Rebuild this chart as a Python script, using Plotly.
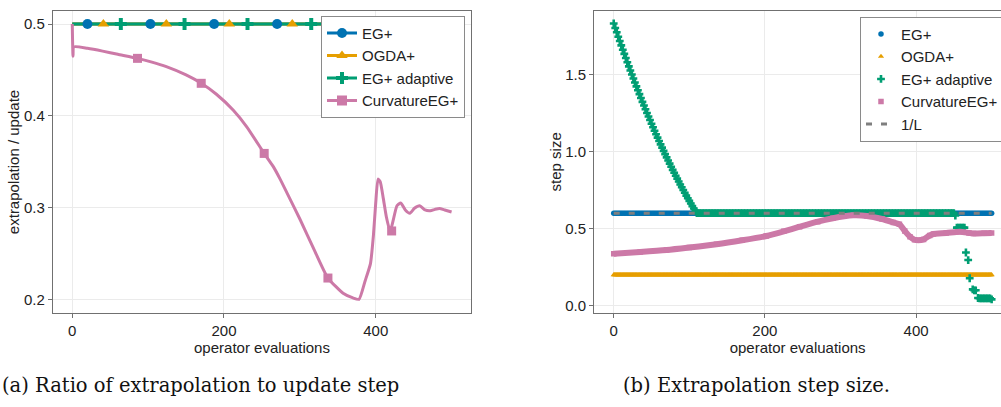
import plotly.graph_objects as go

# ---------------- data: left panel (ratio extrapolation / update) ----------------
left_x_span = [0, 500]
eg_ratio = 0.5
ogda_ratio = 0.5
adapt_ratio = 0.5
eg_mark_x = [20, 103, 187, 270, 353, 437]
ogda_mark_x = [41, 124, 207, 290, 373, 456]
adapt_mark_x = [64, 148, 231, 315, 398, 481]

curv_x = [0, 1, 2, 20, 40, 60, 86, 105, 124, 150, 170, 190, 212, 230, 253, 265, 274, 283, 300, 320,
          337, 357, 370, 378, 386, 393, 397, 400, 403, 406, 410, 414, 419, 423, 428, 433, 439, 445,
          451, 458, 465, 472, 478, 484, 491, 500]
curv_y = [0.500, 0.465, 0.475, 0.4735, 0.4705, 0.467, 0.4626, 0.4585, 0.4535, 0.4445, 0.4354, 0.4235,
          0.4063, 0.388, 0.359, 0.3446, 0.331, 0.316, 0.2875, 0.252, 0.2232, 0.2066, 0.2015, 0.200,
          0.220, 0.2386, 0.270, 0.305, 0.331, 0.328, 0.310, 0.290, 0.2738, 0.286, 0.302, 0.305,
          0.2974, 0.2938, 0.2992, 0.302, 0.2974, 0.2966, 0.298, 0.299, 0.2974, 0.2952]
curv_mark_x = [86, 170, 253, 337, 421]
curv_mark_y = [0.4626, 0.4354, 0.359, 0.2232, 0.2745]

# ---------------- data: right panel (extrapolation step size) ----------------
eg_step_x = list(range(0, 501, 2))
eg_step = 0.6
ogda_step_x = list(range(0, 501, 1))
ogda_step = 0.2
inv_L = 0.6

adapt_desc_x = list(range(0, 111, 2))
adapt_desc_y = [1.830, 1.801, 1.773, 1.744, 1.716, 1.688, 1.660, 1.633, 1.606, 1.579, 1.552, 1.525,
                1.499, 1.473, 1.447, 1.422, 1.397, 1.372, 1.347, 1.322, 1.298, 1.274, 1.250, 1.227,
                1.204, 1.180, 1.157, 1.134, 1.112, 1.090, 1.068, 1.046, 1.025, 1.004, 0.983, 0.962,
                0.942, 0.921, 0.901, 0.881, 0.862, 0.843, 0.824, 0.805, 0.786, 0.768, 0.750, 0.732,
                0.714, 0.697, 0.680, 0.663, 0.646, 0.630, 0.615, 0.600]
adapt_flat_x = list(range(112, 450, 2))
adapt_flat_value = 0.6
adapt_tail_x = [450, 452, 454, 456, 458, 460, 462, 464, 466, 469, 471, 475, 477, 479, 482, 484, 486,
                488, 490, 492, 494, 496, 498, 500]
adapt_tail_y = [0.600, 0.585, 0.506, 0.506, 0.506, 0.506, 0.506, 0.506, 0.345, 0.296, 0.178, 0.106,
                0.100, 0.100, 0.050, 0.048, 0.048, 0.048, 0.048, 0.048, 0.048, 0.048, 0.048, 0.041]

rc_x = [0, 35, 70, 100, 136, 170, 202, 225, 246, 270, 290, 305, 317, 335, 355, 370, 378, 385, 392,
        398, 403, 410, 418, 423, 440, 458, 470, 476, 490, 500]
rc_y = [0.337, 0.348, 0.361, 0.377, 0.398, 0.424, 0.452, 0.482, 0.512, 0.545, 0.567, 0.580, 0.586,
        0.582, 0.562, 0.540, 0.528, 0.485, 0.447, 0.428, 0.424, 0.430, 0.455, 0.465, 0.471, 0.480,
        0.472, 0.468, 0.470, 0.472]

names = ["EG+", "OGDA+", "EG+ adaptive", "CurvatureEG+"]
BLUE, ORANGE, GREEN, PINK, GRAY = "#0072B2", "#E69F00", "#009E73", "#CC79A7", "#7f7f7f"

FONT = "Liberation Sans"
fig = go.Figure()

# ---- left panel lines
for val, col in [(eg_ratio, BLUE), (ogda_ratio, ORANGE), (adapt_ratio, GREEN)]:
    fig.add_trace(go.Scatter(x=left_x_span, y=[val, val], mode="lines", line=dict(color=col, width=3),
                             showlegend=False, xaxis="x", yaxis="y", hoverinfo="skip"))
fig.add_trace(go.Scatter(x=curv_x, y=curv_y, mode="lines", line=dict(color=PINK, width=3, shape="spline", smoothing=0.5),
                         showlegend=False, xaxis="x", yaxis="y"))
# ---- left panel markers
fig.add_trace(go.Scatter(x=eg_mark_x, y=[eg_ratio] * len(eg_mark_x), mode="markers",
                         marker=dict(color=BLUE, symbol="circle", size=10), showlegend=False, xaxis="x", yaxis="y"))
fig.add_trace(go.Scatter(x=ogda_mark_x, y=[ogda_ratio] * len(ogda_mark_x), mode="markers",
                         marker=dict(color=ORANGE, symbol="triangle-up", size=10), showlegend=False, xaxis="x", yaxis="y"))
fig.add_trace(go.Scatter(x=adapt_mark_x, y=[adapt_ratio] * len(adapt_mark_x), mode="markers",
                         marker=dict(color=GREEN, symbol="cross", size=10), showlegend=False, xaxis="x", yaxis="y"))
fig.add_trace(go.Scatter(x=curv_mark_x, y=curv_mark_y, mode="markers",
                         marker=dict(color=PINK, symbol="square", size=9), showlegend=False, xaxis="x", yaxis="y"))
# ---- left legend entries
for nm, col, sym in zip(names, [BLUE, ORANGE, GREEN, PINK], ["circle", "triangle-up", "cross", "square"]):
    fig.add_trace(go.Scatter(x=[None], y=[None], mode="lines+markers", name=nm,
                             line=dict(color=col, width=3), marker=dict(color=col, symbol=sym, size=10),
                             legend="legend", xaxis="x", yaxis="y"))

# ---- right panel
fig.add_trace(go.Scatter(x=eg_step_x, y=[eg_step] * len(eg_step_x), mode="markers", name="EG+",
                         marker=dict(color=BLUE, symbol="circle", size=5.5), legend="legend2", xaxis="x2", yaxis="y2"))
fig.add_trace(go.Scatter(x=ogda_step_x, y=[ogda_step] * len(ogda_step_x), mode="markers", name="OGDA+",
                         marker=dict(color=ORANGE, symbol="triangle-up", size=5.5), legend="legend2", xaxis="x2", yaxis="y2"))
adapt_x = adapt_desc_x + adapt_flat_x + adapt_tail_x
adapt_y = adapt_desc_y + [adapt_flat_value] * len(adapt_flat_x) + adapt_tail_y
fig.add_trace(go.Scatter(x=adapt_x, y=adapt_y, mode="markers", name="EG+ adaptive",
                         marker=dict(color=GREEN, symbol="cross", size=6.5), legend="legend2", xaxis="x2", yaxis="y2"))
fig.add_trace(go.Scatter(x=rc_x, y=rc_y, mode="lines", line=dict(color=PINK, width=6, shape="spline", smoothing=0.6),
                         showlegend=False, legend="legend2", xaxis="x2", yaxis="y2"))
fig.add_trace(go.Scatter(x=rc_x, y=rc_y, mode="markers", name="CurvatureEG+",
                         marker=dict(color=PINK, symbol="square", size=5.5), legend="legend2", xaxis="x2", yaxis="y2"))
fig.add_trace(go.Scatter(x=left_x_span, y=[inv_L, inv_L], mode="lines", name="1/L",
                         line=dict(color=GRAY, width=3, dash="6px,9px"), legend="legend2", xaxis="x2", yaxis="y2"))

W, H = 1001, 407
def px_x(p):
    return p / W
def px_y(p):
    return 1 - p / H

axis_common = dict(showgrid=True, gridcolor="#ebebeb", gridwidth=1, zeroline=False,
                   showline=True, linecolor="#707070", linewidth=1.3,
                   ticks="outside", ticklen=4, tickcolor="#707070", tickwidth=1,
                   tickfont=dict(family=FONT, size=15, color="#222"))
legend_common = dict(bgcolor="white", bordercolor="#8a8a8a", borderwidth=1,
                     font=dict(family=FONT, size=15, color="#222"), tracegroupgap=0)
title_font = dict(family=FONT, size=15, color="#222")
cap_font = dict(family="DejaVu Serif", size=19.5, color="#111")

fig.update_layout(
    width=W, height=H, autosize=False,
    margin=dict(l=0, r=0, t=0, b=0, autoexpand=False),
    plot_bgcolor="white", paper_bgcolor="white",
    xaxis=dict(domain=[px_x(53), px_x(471)], range=[-25.4, 525.6], tickvals=[0, 200, 400],
               mirror=True, anchor="y",
               title=dict(text="operator evaluations", font=title_font, standoff=4),
               **axis_common),
    yaxis=dict(domain=[px_y(313), px_y(11)], range=[0.1851, 0.5142], tickvals=[0.2, 0.3, 0.4, 0.5],
               mirror=True, anchor="x",
               title=dict(text="extrapolation / update", font=title_font, standoff=0),
               **axis_common),
    xaxis2=dict(domain=[px_x(594.3), 1.0], range=[-25.7, 512.4], tickvals=[0, 200, 400],
                mirror=True, anchor="y2",
                title=dict(text="operator evaluations", font=title_font, standoff=4),
                **axis_common),
    yaxis2=dict(domain=[px_y(312.7), px_y(11)], range=[-0.0454, 1.911], tickvals=[0.0, 0.5, 1.0, 1.5],
                tickformat=".1f", mirror=False, anchor="x2",
                title=dict(text="step size", font=title_font, standoff=0),
                **axis_common),
    legend=dict(x=px_x(465), xanchor="right", y=px_y(15.7), yanchor="top", **legend_common),
    legend2=dict(x=px_x(860), xanchor="left", y=px_y(16.7), yanchor="top", **legend_common),
    annotations=[
        dict(text="(a) Ratio of extrapolation to update step", x=px_x(0), y=px_y(385), xref="paper", yref="paper",
             xanchor="left", yanchor="middle", showarrow=False, font=cap_font),
        dict(text="(b) Extrapolation step size.", x=px_x(621), y=px_y(385), xref="paper", yref="paper",
             xanchor="left", yanchor="middle", showarrow=False, font=cap_font),
    ],
)

fig.write_html("out.html", config={"displayModeBar": False},
               post_script="document.body.style.margin='0';")
